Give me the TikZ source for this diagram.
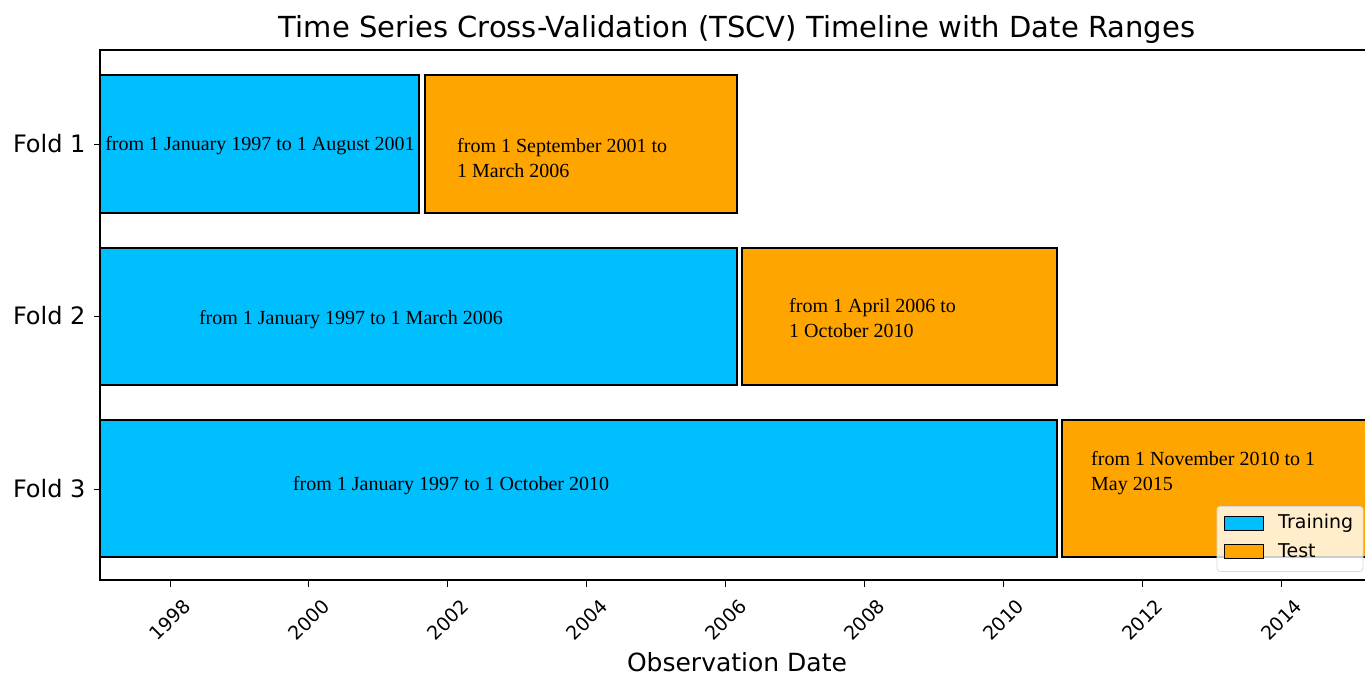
\documentclass[tikz,border=0pt]{standalone}
\usepackage{fontspec}
\setmainfont{Liberation Serif}
\setsansfont{DejaVu Sans}
\definecolor{trainblue}{RGB}{0,191,255}
\definecolor{testorange}{RGB}{255,165,0}
\tikzset{
  bar/.style={draw=black, line width=1.3pt},
  trainbar/.style={bar, fill=trainblue},
  testbar/.style={bar, fill=testorange},
  bartext/.style={font=\fontsize{20}{24.5}\selectfont, inner sep=0pt},
  ticklabel/.style={font=\sffamily\fontsize{19}{22}\selectfont, rotate=45, inner sep=0pt}
}
\begin{document}
\begin{tikzpicture}[x=1pt, y=-1pt]
\useasboundingbox (0,0) rectangle (1365,675);
\clip (0,0) rectangle (1365,675);
% title
\node[font=\sffamily\fontsize{29}{34}\selectfont] (title) at (737,29) {Time Series Cross-Validation (TSCV) Timeline with Date Ranges};
% the bars of the three folds
\draw[trainbar] (100,75) rectangle (419,213);
\draw[testbar] (425,75) rectangle (737,213);
\draw[trainbar] (100,248) rectangle (737,385);
\draw[testbar] (742,248) rectangle (1057,385);
\draw[trainbar] (100,420) rectangle (1057,557);
\draw[testbar] (1062,420) rectangle (1380,557);
% the date ranges
\node[bartext] (train1) at (260,146) {from 1 January 1997 to 1 August 2001};
\node[bartext, anchor=west, align=left] (test1) at (457,158) {from 1 September 2001 to\\1 March 2006};
\node[bartext] (train2) at (351,320) {from 1 January 1997 to 1 March 2006};
\node[bartext, anchor=west, align=left] (test2) at (789,318) {from 1 April 2006 to\\1 October 2010};
\node[bartext] (train3) at (451,486) {from 1 January 1997 to 1 October 2010};
\node[bartext, anchor=west, align=left] (test3) at (1091,473) {from 1 November 2010 to 1\\May 2015};
% the frame of the axes
\draw[line width=1.3pt] (1375,50) -- (100,50) -- (100,580) -- (1375,580);
% the folds on the left
\foreach \y/\k in {144/1,316/2,489/3}{
  \draw[line width=1pt] (94,\y) -- (100,\y);
  \node[font=\sffamily\fontsize{24}{28}\selectfont, anchor=east] (fold\k) at (89,\y) {Fold \k};
}
% the years below
\foreach \yr in {1998,2000,...,2014}{
  \pgfmathsetmacro{\xx}{170+(\yr-1998)*69.45}
  \draw[line width=1pt] (\xx,580) -- (\xx,587);
  \node[ticklabel] (yr\yr) at (\xx,620) {\yr};
}
\node[font=\sffamily\fontsize{25}{30}\selectfont] (xlabel) at (737,662) {Observation Date};
% legend
\node[draw=black!15, fill=white, fill opacity=0.8, rounded corners=3pt, minimum width=146pt, minimum height=65pt, line width=0.8pt] (legend) at (1290,539) {};
\draw[trainbar, line width=1pt] (1224,516) rectangle (1263,530);
\draw[testbar, line width=1pt] (1224,544) rectangle (1263,558);
\node[font=\sffamily\fontsize{19}{22}\selectfont, anchor=west, inner sep=0pt] (ltrain) at (1278,523) {Training};
\node[font=\sffamily\fontsize{19}{22}\selectfont, anchor=west, inner sep=0pt] (ltest) at (1278,551) {Test};
\end{tikzpicture}
\end{document}
